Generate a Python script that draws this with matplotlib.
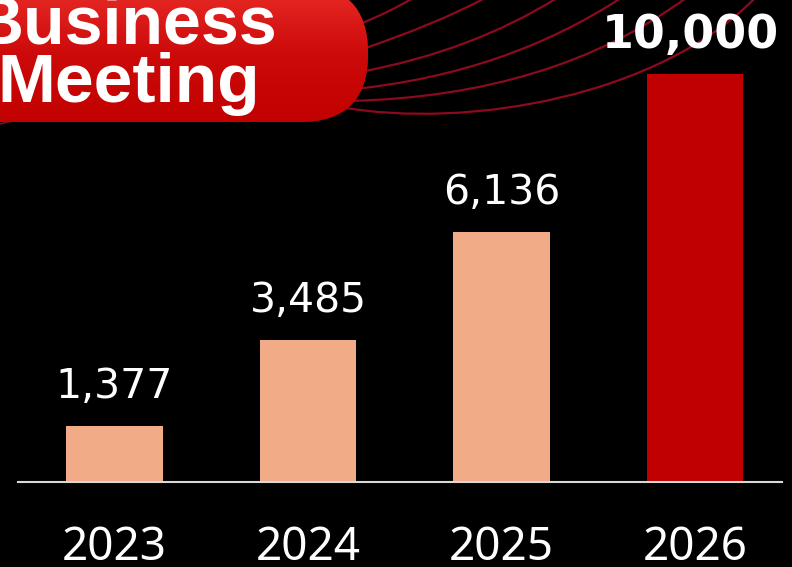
import numpy as np
import matplotlib
matplotlib.use("Agg")
import matplotlib.pyplot as plt
from matplotlib.patches import FancyBboxPatch
from matplotlib.path import Path
from matplotlib.patches import PathPatch

# ---- data ----
years = ["2023", "2024", "2025", "2026"]
values = [1377, 3485, 6136, 10000]
value_labels = ["1,377", "3,485", "6,136", "10,000"]
bar_colors = ["#F2AB87", "#F2AB87", "#F2AB87", "#C00000"]
title_lines = ["Business", "Meeting"]

W, H = 792, 567
fig = plt.figure(figsize=(W / 100, H / 100), dpi=100, facecolor="black")

# ---- decoration overlay (pixel coordinates) ----
deco = fig.add_axes([0, 0, 1, 1], zorder=0)
deco.set_xlim(0, W)
deco.set_ylim(H, 0)
deco.axis("off")
deco.set_facecolor("black")

curve_col = "#8C0A1E"
curves = [
    [(355, 26), (388, 13), (413, -2)],
    [(360, 50), (439, 23), (485, -2)],
    [(360, 72), (472, 51), (557, -2)],
    [(355, 89), (506, 73), (621, -2)],
    [(350, 101), (552, 96), (686, -2)],
]
for pts in curves:
    path = Path(pts, [Path.MOVETO, Path.CURVE3, Path.CURVE3])
    deco.add_patch(PathPatch(path, fc="none", ec=curve_col, lw=1.6))
path = Path([(340, 107), (470, 130), (660, 95), (755, -2)],
            [Path.MOVETO, Path.CURVE4, Path.CURVE4, Path.CURVE4])
deco.add_patch(PathPatch(path, fc="none", ec=curve_col, lw=1.6))
path = Path([(0, 124), (20, 118), (45, 116)],
            [Path.MOVETO, Path.CURVE3, Path.CURVE3])
deco.add_patch(PathPatch(path, fc="none", ec=curve_col, lw=1.2))

# banner
banner = FancyBboxPatch((-150, -15), 518, 137,
                        boxstyle="round,pad=0,rounding_size=68",
                        fc="#C80808", ec="none", zorder=2)
deco.add_patch(banner)
grad = np.linspace(0, 1, 256)
top = np.array([0.92, 0.18, 0.16])
mid = np.array([0.80, 0.04, 0.04])
bot = np.array([0.76, 0.0, 0.0])
img = np.zeros((256, 1, 3))
for i, g in enumerate(grad):
    if g < 0.5:
        img[i, 0] = top + (mid - top) * (g / 0.5)
    else:
        img[i, 0] = mid + (bot - mid) * ((g - 0.5) / 0.5)
im = deco.imshow(img, extent=(-150, 380, 125, -18), aspect="auto",
                 zorder=3, interpolation="bilinear")
im.set_clip_path(banner)
deco.set_xlim(0, W)
deco.set_ylim(H, 0)

deco.text(277, 43, title_lines[0], color="white", fontsize=49,
          fontweight="bold", family="Liberation Sans", va="baseline",
          ha="right", zorder=5)
deco.text(-3, 102, title_lines[1], color="white", fontsize=50,
          fontweight="bold", family="Liberation Sans", va="baseline",
          ha="left", zorder=5)

# ---- main chart ----
ax = fig.add_axes([18 / W, 85 / H, (782 - 18) / W, 482 / H], zorder=1)
ax.set_facecolor("none")
x = np.arange(len(years))
ax.bar(x, values, width=0.5, color=bar_colors, zorder=2)
ax.set_xlim(-0.499, 3.45)
ax.set_ylim(0, 11814)

for i, (v, lab) in enumerate(zip(values, value_labels)):
    bold = (i == len(values) - 1)
    ax.annotate(lab, (x[i], v), xytext=(-3 if bold else 0, 18.7 if bold else 20.2),
                textcoords="offset points", ha="center", va="baseline",
                color="white", fontsize=33 if bold else 29.5,
                fontweight="bold" if bold else "normal",
                family="DejaVu Sans", zorder=4)

for s in ["top", "left", "right"]:
    ax.spines[s].set_visible(False)
ax.spines["bottom"].set_color("#D9D9D9")
ax.spines["bottom"].set_linewidth(1.5)
ax.set_yticks([])
ax.set_xticks(x)
ax.set_xticklabels(years, color="white", fontsize=33, family="Noto Sans")
ax.tick_params(axis="x", length=0, pad=31)

fig.savefig("out.png", dpi=100, facecolor="black")
